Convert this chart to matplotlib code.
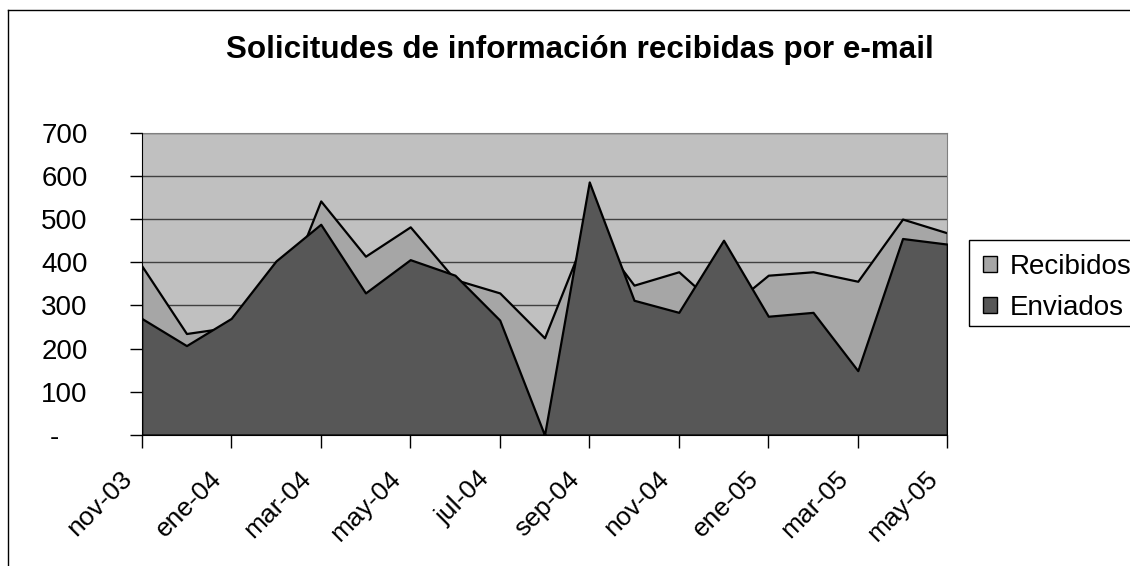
import matplotlib.pyplot as plt
from matplotlib.lines import Line2D
from matplotlib.patches import Patch, Rectangle
from matplotlib.transforms import ScaledTranslation

# monthly counts, nov-03 .. may-05
months = ["nov-03", "dic-03", "ene-04", "feb-04", "mar-04", "abr-04", "may-04",
          "jun-04", "jul-04", "ago-04", "sep-04", "oct-04", "nov-04", "dic-04",
          "ene-05", "feb-05", "mar-05", "abr-05", "may-05"]
recibidos = [392, 235, 250, 282, 542, 414, 482, 360, 329, 225,
             485, 347, 378, 285, 370, 378, 356, 500, 468]
enviados = [270, 207, 270, 403, 488, 329, 406, 370, 266, 0,
            586, 312, 284, 451, 275, 284, 149, 455, 442]
y_ticks = [0, 100, 200, 300, 400, 500, 600, 700]

plt.rcParams["font.family"] = ["Liberation Sans", "DejaVu Sans"]
FS = 20

fig = plt.figure(figsize=(11.3, 5.66), dpi=100)
W, H = 1130, 566
ax = fig.add_axes([141.7 / W, 1 - 435 / H, (947.3 - 141.7) / W, (435 - 132.7) / H])

x = list(range(len(months)))
ax.set_facecolor("#C0C0C0")
ax.fill_between(x, recibidos, 0, facecolor="#A6A6A6", edgecolor="black",
                linewidth=1.6, zorder=2)
ax.fill_between(x, enviados, 0, facecolor="#575757", edgecolor="black",
                linewidth=1.6, zorder=3)

ax.set_xlim(0, len(months) - 1)
ax.set_ylim(0, 700)
ax.set_axisbelow(True)
ax.yaxis.grid(True, color="#404040", linewidth=1.0)

ax.set_yticks(y_ticks)
ax.set_yticklabels(["-" if v == 0 else str(v) for v in y_ticks], fontsize=FS)
ax.tick_params(axis="y", direction="out", length=9, width=1, pad=30)
# accounting-style dash for zero sits further left
dash = ax.get_yticklabels()[0]
dash.set_transform(dash.get_transform() + ScaledTranslation(-0.29, 0, fig.dpi_scale_trans))

ax.set_xticks(x[::2])
ax.set_xticklabels(months[::2], fontsize=19, rotation=45, ha="right", va="top",
                   rotation_mode="anchor")
ax.tick_params(axis="x", direction="out", length=9, width=1, pad=8)
shift = ScaledTranslation(-0.22, -0.08, fig.dpi_scale_trans)
for lbl in ax.get_xticklabels():
    lbl.set_transform(lbl.get_transform() + shift)

for side in ("top", "right"):
    ax.spines[side].set_color("#808080")
for side in ("left", "bottom"):
    ax.spines[side].set_color("black")
    ax.spines[side].set_zorder(4)

fig.text(580 / W, 1 - 58 / H, "Solicitudes de información recibidas por e-mail",
         fontsize=22.6, fontweight="bold", ha="center", va="baseline")

handles = [Patch(facecolor="#A6A6A6", edgecolor="black", linewidth=1),
           Patch(facecolor="#575757", edgecolor="black", linewidth=1)]
fig.legend(handles, ["Recibidos", "Enviados"], loc="upper left",
           bbox_to_anchor=(969 / W, 1 - 240 / H), fontsize=FS, frameon=False,
           handlelength=0.5, handleheight=0.5, handletextpad=0.45,
           borderpad=0.5, labelspacing=0.55, borderaxespad=0)
# legend box runs past the right edge of the chart area
fig.add_artist(Rectangle((969 / W, 1 - 326 / H), 200 / W, 86 / H,
                         transform=fig.transFigure, facecolor="none",
                         edgecolor="black", linewidth=1))

# chart area border
fig.add_artist(Line2D([8 / W, 1], [1 - 10 / H, 1 - 10 / H], color="black", lw=1))
fig.add_artist(Line2D([8 / W, 8 / W], [0, 1 - 10 / H], color="black", lw=1))

fig.savefig("out.png", dpi=100)
